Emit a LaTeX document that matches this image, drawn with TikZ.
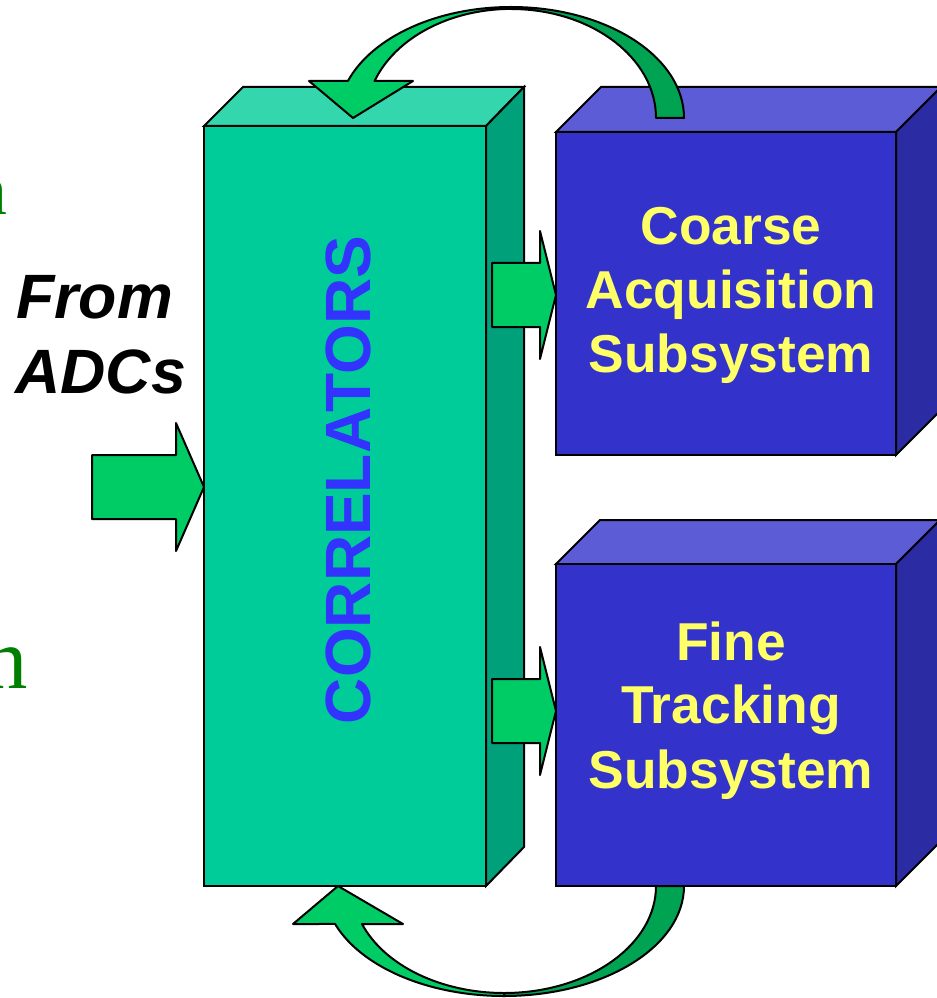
\documentclass[tikz,border=0pt]{standalone}
\usepackage{fontspec}
\setmainfont{Liberation Sans}
\newfontfamily\timesfont{Liberation Serif}
\definecolor{corrFront}{HTML}{00CC99}
\definecolor{corrTop}{HTML}{33D6AD}
\definecolor{corrSide}{HTML}{00A07A}
\definecolor{boxFront}{HTML}{3333CC}
\definecolor{boxTop}{HTML}{5C5CD6}
\definecolor{boxSide}{HTML}{2B2BA3}
\definecolor{arrowLight}{HTML}{00CC66}
\definecolor{arrowDark}{HTML}{00A352}
\definecolor{labelYellow}{HTML}{FFFF66}
\definecolor{labelBlue}{HTML}{3333FF}
\definecolor{noteGreen}{HTML}{008000}
\begin{document}
\begin{tikzpicture}[x=0.75pt,y=-0.75pt,
  outline/.style={draw=black,line width=1.5pt,line join=miter,miter limit=4},
  arrowpart/.style={outline,line join=round},
  boxlabel/.style={text=labelYellow,font=\fontsize{40pt}{48pt}\selectfont\bfseries,anchor=base,inner sep=0pt},
  sidelabel/.style={text=black,font=\fontsize{47pt}{56pt}\selectfont\bfseries\itshape,anchor=base west,inner sep=0pt},
  fragment/.style={text=noteGreen,anchor=base east,inner sep=0pt}]
\useasboundingbox (0,0) rectangle (936,998);

% partly hidden words at the left edge
\begin{scope}
  \clip (0,0) rectangle (936,998);
  \node[fragment,font=\timesfont\fontsize{54pt}{60pt}\selectfont] (fragA) at (8,215) {n};
  \node[fragment,font=\timesfont\fontsize{65pt}{72pt}\selectfont] (fragB) at (28,688) {n};
\end{scope}

% correlator block
\fill[corrFront] (204,126) rectangle (486,886);
\draw[outline,fill=corrTop] (204,126) -- (243,87) -- (524,87) -- (486,126) -- cycle;
\draw[outline,fill=corrSide] (486,126) -- (524,87) -- (524,847) -- (486,886) -- cycle;
\draw[outline] (204,126) rectangle (486,886);
\node[rotate=90,text=labelBlue,font=\fontsize{48pt}{56pt}\selectfont\bfseries,inner sep=0pt]
  (corr) at (348.5,480) {CORRELATORS};

% coarse acquisition block
\draw[outline,fill=boxTop] (556,132) -- (601,87) -- (941,87) -- (896,132) -- cycle;
\draw[outline,fill=boxSide] (896,132) -- (941,87) -- (941,410) -- (896,455) -- cycle;
\draw[outline,fill=boxFront] (556,132) rectangle (896,455);
\node[boxlabel] (ca1) at (731,245) {Coarse};
\node[boxlabel] (ca2) at (731,308) {Acquisition};
\node[boxlabel] (ca3) at (731,372) {Subsystem};

% fine tracking block
\draw[outline,fill=boxTop] (556,564) -- (600,520) -- (940,520) -- (896,564) -- cycle;
\draw[outline,fill=boxSide] (896,564) -- (940,520) -- (940,842) -- (896,886) -- cycle;
\draw[outline,fill=boxFront] (556,564) rectangle (896,886);
\node[boxlabel] (ft1) at (731,660) {Fine};
\node[boxlabel] (ft2) at (731,723) {Tracking};
\node[boxlabel] (ft3) at (731,788) {Subsystem};

% input label
\node[sidelabel] (from1) at (16,318) {From};
\node[sidelabel] (from2) at (15,393) {ADCs};

% block arrows
\draw[arrowpart,fill=arrowLight] (92,455) -- (176,455) -- (176,423) -- (204,487)
  -- (176,551) -- (176,519) -- (92,519) -- cycle;
\draw[arrowpart,fill=arrowLight] (492,263) -- (540,263) -- (540,231) -- (556,295)
  -- (540,359) -- (540,327) -- (492,327) -- cycle;
\draw[arrowpart,fill=arrowLight] (492,679) -- (540,679) -- (540,647) -- (556,711)
  -- (540,775) -- (540,743) -- (492,743) -- cycle;

% curved feedback arrow over the top
\draw[arrowpart,fill=arrowDark] (684,118)
  arc[start angle=0,end angle=-90,x radius=173,y radius=111]
  -- (511,9) arc[start angle=-90,end angle=0,x radius=145,y radius=109] -- cycle;
\draw[arrowpart,fill=arrowLight] (511,7)
  arc[start angle=-90,end angle=-160.5,x radius=173,y radius=111]
  -- (309,81) -- (353,118) -- (413,81) -- (374.6,81)
  arc[start angle=-160.2,end angle=-90,x radius=145,y radius=109] -- cycle;

% curved feedback arrow underneath
\draw[arrowpart,fill=arrowDark] (684,886)
  arc[start angle=0,end angle=90,x radius=180,y radius=110]
  -- (504,993) arc[start angle=90,end angle=0,x radius=152,y radius=107] -- cycle;
\draw[arrowpart,fill=arrowLight] (504,996)
  arc[start angle=90,end angle=159.8,x radius=180,y radius=110]
  -- (293,924) -- (338,886) -- (403,924) -- (362,924)
  arc[start angle=159.2,end angle=90,x radius=152,y radius=107] -- cycle;
\end{tikzpicture}
\end{document}
